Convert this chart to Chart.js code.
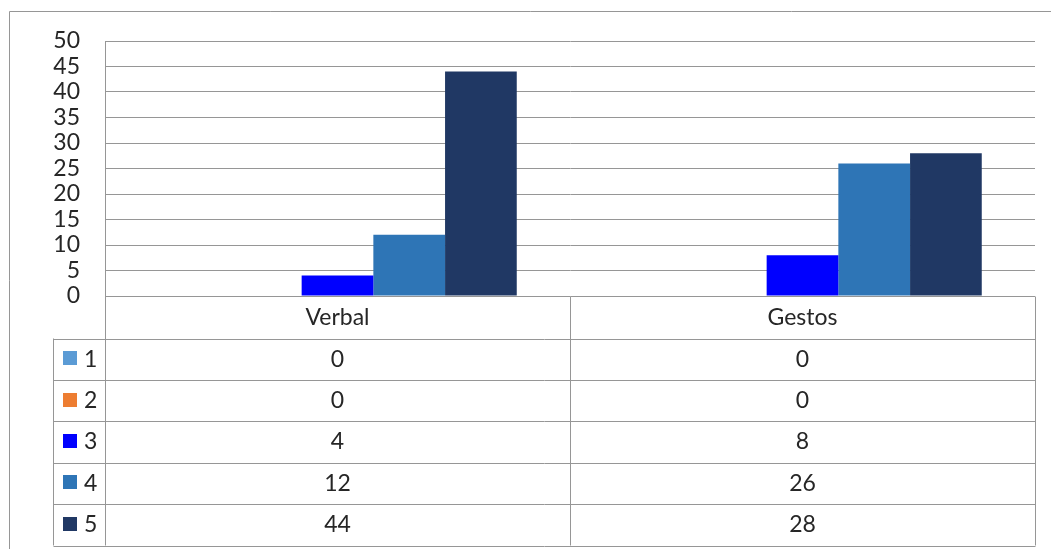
<!DOCTYPE html>
<html>
<head>
<meta charset="utf-8">
<script src="https://cdn.jsdelivr.net/npm/chart.js@4.4.1/dist/chart.umd.min.js"></script>
<style>
  html, body { margin: 0; padding: 0; background: #fff; }
  #wrap { width: 1051px; height: 549px; }
</style>
</head>
<body>
<div id="wrap"><canvas id="chart" width="1051" height="549"></canvas></div>
<script>
// datos
const categories = ["Verbal", "Gestos"];
const seriesNames = ["1", "2", "3", "4", "5"];
const serie1 = [0, 0];
const serie2 = [0, 0];
const serie3 = [4, 8];
const serie4 = [12, 26];
const serie5 = [44, 28];
const seriesValues = [serie1, serie2, serie3, serie4, serie5];
const seriesColors = ["#5b9bd5", "#ed7d31", "#0000ff", "#2e75b6", "#203864"];

const FONT = "Lato, 'Open Sans', sans-serif";
const FONT_SIZE = 23;
const TEXT = "#262626";
const LINE = "#969696";

// tabla de datos debajo del gráfico
const tablePlugin = {
  id: "dataTable",
  afterDraw(chart) {
    const ctx = chart.ctx;
    const area = chart.chartArea;
    const xs = chart.scales.x;
    const left = Math.round(area.left) + 0.5;
    const right = Math.round(area.right) + 0.5;
    const top = Math.round(area.bottom) + 0.5;
    const headerH = 41.5;
    const rowH = 41.4;
    const legendLeft = 53.5;
    const mid = Math.round((xs.getPixelForValue(0) + xs.getPixelForValue(1)) / 2) + 0.5;
    const rowsTop = Math.round(top + headerH) + 0.5;
    const bottom = rowsTop + rowH * seriesNames.length;

    ctx.save();
    ctx.strokeStyle = LINE;
    ctx.lineWidth = 1;

    // marco exterior
    ctx.beginPath();
    ctx.moveTo(9.5, 560);
    ctx.lineTo(9.5, 11.5);
    ctx.lineTo(1060, 11.5);
    ctx.stroke();

    ctx.beginPath();
    // vertical izquierda (eje) hasta abajo
    ctx.moveTo(left, top);
    ctx.lineTo(left, bottom);
    // separador entre categorías y borde derecho
    ctx.moveTo(mid, top);
    ctx.lineTo(mid, bottom);
    ctx.moveTo(right, top);
    ctx.lineTo(right, bottom);
    // columna de leyenda
    ctx.moveTo(legendLeft, rowsTop);
    ctx.lineTo(legendLeft, bottom);
    // horizontales
    for (let r = 0; r <= seriesNames.length; r++) {
      const y = Math.round(rowsTop + r * rowH) + 0.5;
      ctx.moveTo(legendLeft, y);
      ctx.lineTo(right, y);
    }
    ctx.stroke();

    ctx.font = FONT_SIZE + "px " + FONT;
    ctx.fillStyle = TEXT;
    ctx.textBaseline = "middle";
    ctx.textAlign = "center";
    categories.forEach((c, i) => {
      ctx.fillText(c, xs.getPixelForValue(i), top + headerH / 2);
    });

    seriesNames.forEach((name, r) => {
      const cy = rowsTop + r * rowH + rowH / 2;
      ctx.fillStyle = seriesColors[r];
      ctx.fillRect(63, Math.round(cy - 8), 14, 14);
      ctx.fillStyle = TEXT;
      ctx.textAlign = "left";
      ctx.fillText(name, 84, cy);
      ctx.textAlign = "center";
      seriesValues[r].forEach((v, i) => {
        ctx.fillText(String(v), xs.getPixelForValue(i), cy);
      });
    });
    ctx.restore();
  }
};

const ctx = document.getElementById("chart").getContext("2d");
new Chart(ctx, {
  type: "bar",
  data: {
    labels: categories,
    datasets: seriesNames.map((name, i) => ({
      label: name,
      data: seriesValues[i],
      backgroundColor: seriesColors[i],
      borderWidth: 0,
      barPercentage: 1,
      categoryPercentage: 0.771
    }))
  },
  options: {
    responsive: false,
    animation: false,
    devicePixelRatio: 1,
    layout: { padding: { left: 25, top: 41, right: 16, bottom: 253 } },
    plugins: { legend: { display: false }, tooltip: { enabled: false } },
    scales: {
      x: { display: false },
      y: {
        min: 0,
        max: 50,
        afterFit(scale) { scale.width = 80; },
        ticks: {
          stepSize: 5,
          autoSkip: false,
          padding: 25,
          color: TEXT,
          font: { family: FONT, size: FONT_SIZE }
        },
        grid: { color: LINE, lineWidth: 1, drawTicks: false },
        border: { display: true, color: LINE, width: 1 }
      }
    }
  },
  plugins: [tablePlugin]
});
</script>
</body>
</html>
